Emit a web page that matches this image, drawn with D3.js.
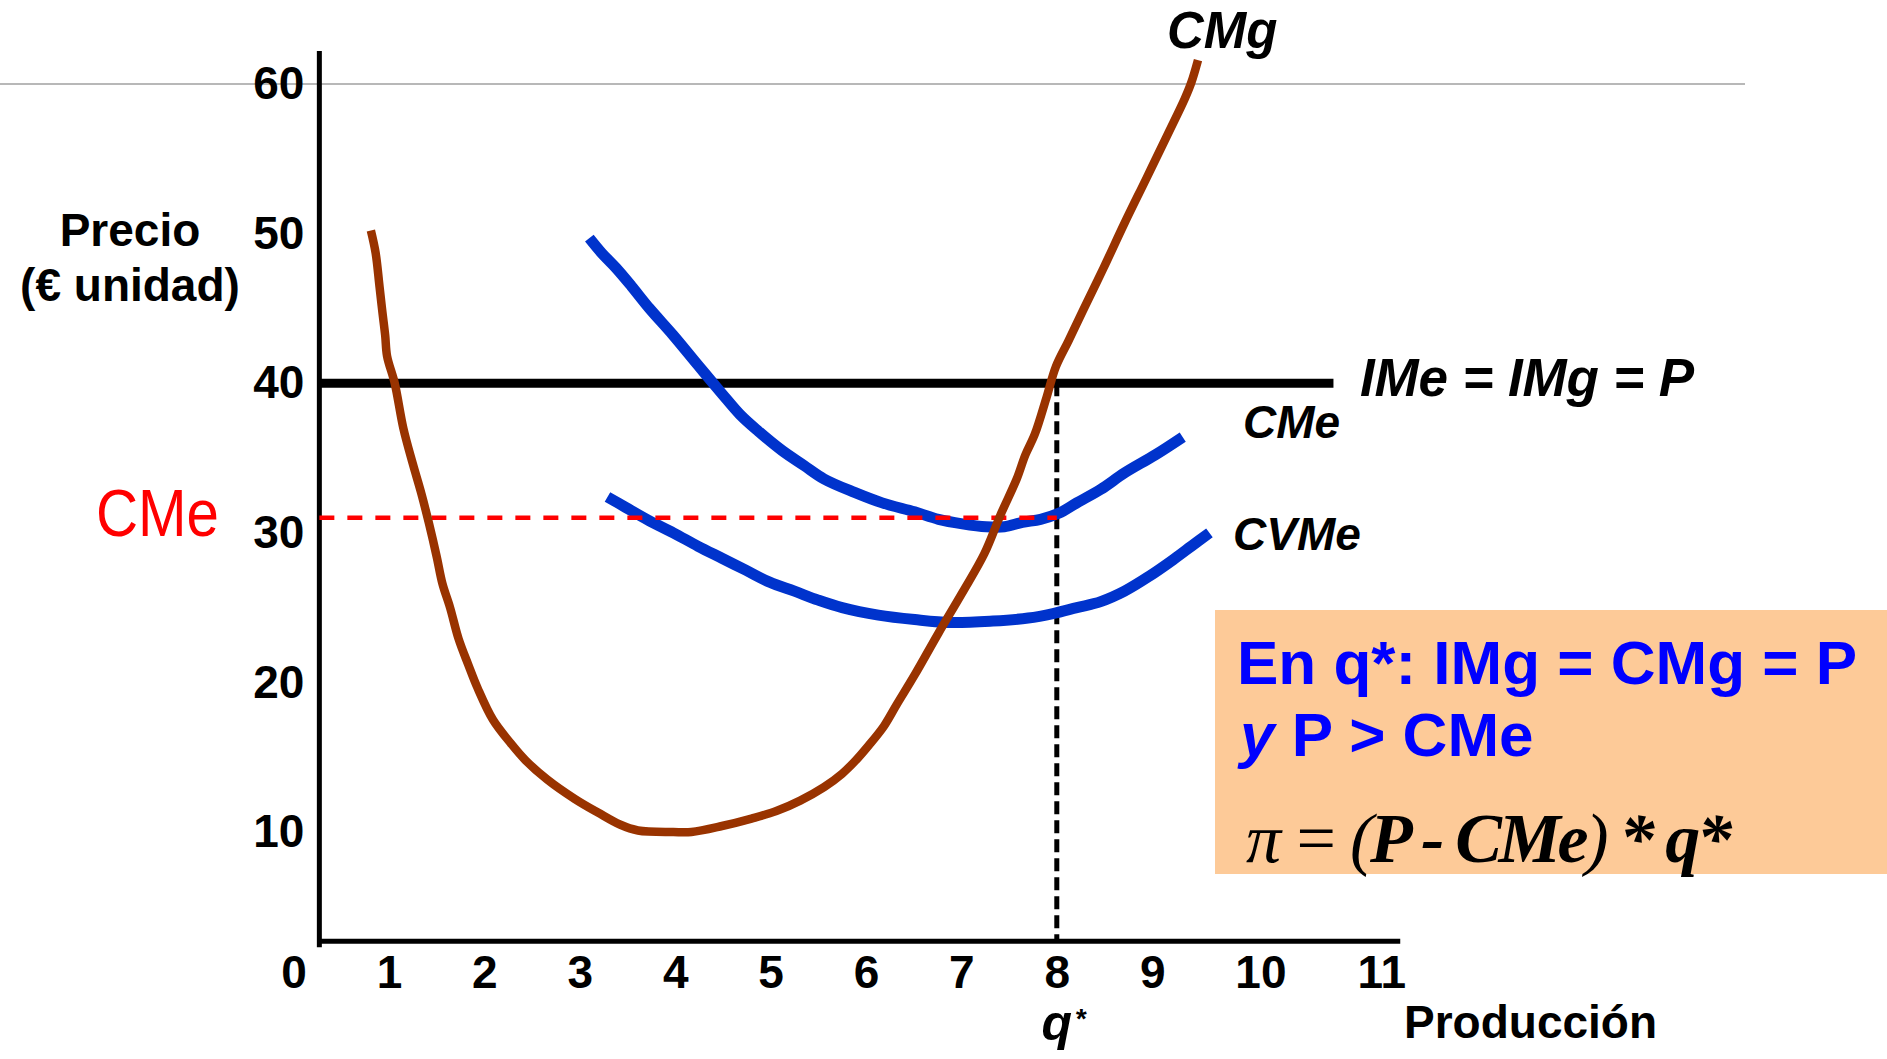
<html>
<head>
<script src="https://d3js.org/d3.v7.min.js"></script>
<style>
  body { margin: 0; background: #fff; }
  #svg { background-color: #fff; }
</style>
</head>
<body>
<svg id="svg" width="1887" height="1059"></svg>
<script>
// ---- data ----
var xTicks = [0, 1, 2, 3, 4, 5, 6, 7, 8, 9, 10, 11];
var yTicks = [10, 20, 30, 40, 50, 60];

var cmgQ = [0.81, 0.86, 0.9, 0.93, 0.96, 0.98, 1.06, 1.15, 1.25, 1.34, 1.42, 1.5, 1.56, 1.64, 1.73, 1.83, 1.93, 2.09, 2.28, 2.43, 2.66, 2.95, 3.19, 3.42, 3.61, 3.98, 4.17, 4.49, 4.8, 5.06, 5.31, 5.56, 5.75, 5.88, 6.03, 6.19, 6.32, 6.51, 6.76, 7.01, 7.24, 7.41, 7.58, 7.67, 7.77, 7.89, 7.99, 8.12, 8.27, 8.49, 8.71, 8.94, 9.16, 9.34, 9.41, 9.48];
var cmgC = [50.2, 48.7, 46.5, 44.8, 43.2, 41.8, 40.0, 37.0, 34.6, 32.6, 30.6, 28.4, 26.6, 25.0, 22.9, 21.2, 19.6, 17.5, 15.9, 14.8, 13.5, 12.2, 11.3, 10.5, 10.1, 10.0, 10.0, 10.4, 10.9, 11.4, 12.1, 13.0, 13.9, 14.7, 15.8, 17.1, 18.5, 20.5, 23.3, 26.0, 28.6, 31.2, 33.6, 35.2, 36.6, 39.0, 41.1, 42.8, 44.8, 47.7, 50.7, 53.7, 56.6, 59.0, 60.1, 61.6];

var cmeQ = [3.1, 3.23, 3.38, 3.54, 3.73, 3.98, 4.24, 4.49, 4.68, 4.87, 5.12, 5.35, 5.56, 5.88, 6.17, 6.51, 6.76, 7.01, 7.26, 7.45, 7.64, 7.83, 8.02, 8.21, 8.46, 8.71, 9.03, 9.32];
var cmeC = [49.7, 48.7, 47.7, 46.5, 45.0, 43.2, 41.2, 39.3, 37.9, 36.8, 35.5, 34.5, 33.6, 32.7, 32.0, 31.4, 30.9, 30.6, 30.4, 30.4, 30.7, 30.9, 31.3, 32.0, 32.9, 34.0, 35.2, 36.4];

var cvmeQ = [3.29, 3.48, 3.73, 3.98, 4.24, 4.49, 4.74, 4.99, 5.25, 5.5, 5.75, 6.13, 6.51, 6.89, 7.33, 7.7, 7.96, 8.21, 8.46, 8.71, 8.97, 9.22, 9.41, 9.6];
var cvmeC = [32.4, 31.7, 30.8, 30.0, 29.1, 28.3, 27.5, 26.7, 26.1, 25.5, 25.0, 24.5, 24.2, 24.0, 24.1, 24.3, 24.6, 25.0, 25.4, 26.1, 27.1, 28.2, 29.1, 30.0];

var price = 40;        // IMe = IMg = P
var priceEnd = 10.9;   // where the price line stops
var qStar = 8;
var cmeAtQ = 31;       // average cost at q*
var axisX0 = 0.27, axisX1 = 11.6;   // x extent of the axis line
var axisY0 = 2.7, axisY1 = 62.2;    // y extent of the axis line

// ---- setup ----
var svg = d3.select("svg");
var width = +svg.attr("width");
var sans = "'Liberation Sans', Arial, sans-serif";
var serif = "'Liberation Serif', 'Times New Roman', serif";

var x = d3.scaleLinear().domain([0, 11]).range([293.6, 1343]);
var y = d3.scaleLinear().domain([0, 60]).range([981.6, 84]);

var brown = "#993300", blue = "#0033cc", txtBlue = "#0000ff";

// gray slide rule at the top
svg.append("line")
    .attr("x1", 0).attr("x2", 1745)
    .attr("y1", y(60)).attr("y2", y(60))
    .attr("stroke", "#a0a0a0").attr("stroke-width", 1.5);

// peach box
svg.append("rect")
    .attr("x", 1215).attr("y", 610)
    .attr("width", width - 1215).attr("height", 264)
    .attr("fill", "#fdca98");

// axes
var gx = svg.append("g").attr("transform", "translate(0," + y(axisY0) + ")")
    .call(d3.axisBottom(x).tickValues(xTicks).tickSize(0).tickPadding(14));
var gy = svg.append("g").attr("transform", "translate(" + x(axisX0) + ",0)")
    .call(d3.axisLeft(y).tickValues(yTicks).tickSize(0).tickPadding(15));
[gx, gy].forEach(function(g){
    g.select(".domain").remove();
    g.selectAll("text")
        .style("font-family", sans)
        .attr("font-weight", "bold")
        .attr("font-size", 46)
        .attr("fill", "#000");
});
// labels were typed as one string, so two-digit numbers push the rest right
var digitW = 0.556 * 46, extra = 0;
gx.selectAll("text").attr("dx", function(d){
    var own = String(d).length - 1;
    var off = extra + own * digitW / 2;
    extra += own * digitW;
    return off;
});

svg.append("line")
    .attr("x1", x(axisX0)).attr("x2", x(axisX0))
    .attr("y1", y(axisY1)).attr("y2", y(axisY0) + 6)
    .attr("stroke", "#000").attr("stroke-width", 5);
svg.append("line")
    .attr("x1", x(axisX0)).attr("x2", x(axisX1))
    .attr("y1", y(axisY0)).attr("y2", y(axisY0))
    .attr("stroke", "#000").attr("stroke-width", 5);

// dashed q* line
svg.append("line")
    .attr("x1", x(qStar)).attr("x2", x(qStar))
    .attr("y1", y(price)).attr("y2", y(axisY0))
    .attr("stroke", "#000").attr("stroke-width", 5)
    .attr("stroke-dasharray", "13,6");

// price line
svg.append("line")
    .attr("x1", x(axisX0)).attr("x2", x(priceEnd))
    .attr("y1", y(price)).attr("y2", y(price))
    .attr("stroke", "#000").attr("stroke-width", 9);

// curves
var line = d3.line()
    .x(function(d){ return x(d[0]); })
    .y(function(d){ return y(d[1]); })
    .curve(d3.curveCatmullRom.alpha(0.5));

function drawCurve(qs, cs, color, w){
    svg.append("path")
        .datum(d3.zip(qs, cs))
        .attr("d", line)
        .attr("fill", "none")
        .attr("stroke", color)
        .attr("stroke-width", w);
}
drawCurve(cvmeQ, cvmeC, blue, 11);
drawCurve(cmeQ, cmeC, blue, 11);

// red dashed CMe level
svg.append("line")
    .attr("x1", x(axisX0)).attr("x2", x(qStar))
    .attr("y1", y(cmeAtQ)).attr("y2", y(cmeAtQ))
    .attr("stroke", "#ff0000").attr("stroke-width", 4.5)
    .attr("stroke-dasharray", "15,13");

drawCurve(cmgQ, cmgC, brown, 8.5);

// ---- text ----
function label(txt, px, py, opts){
    opts = opts || {};
    return svg.append("text")
        .attr("x", px).attr("y", py)
        .style("font-family", sans)
        .attr("text-anchor", opts.anchor || "start")
        .attr("font-size", opts.size || 46)
        .attr("font-weight", opts.weight || "bold")
        .attr("font-style", opts.style || "normal")
        .attr("fill", opts.fill || "#000")
        .text(txt);
}

label("Precio", 130, 246, {anchor: "middle"});
label("(\u20ac unidad)", 130, 301, {anchor: "middle"});
label("CMe", 96, 536, {size: 66, weight: "normal", fill: "#ff0000"})
    .attr("textLength", 123).attr("lengthAdjust", "spacingAndGlyphs");

label("CMg", 1167, 48, {size: 51, style: "italic"});
label("IMe = IMg = P", 1360, 396, {size: 53, style: "italic"})
    .attr("textLength", 334).attr("lengthAdjust", "spacing");
label("CMe", 1243, 438, {size: 46, style: "italic"});
label("CVMe", 1233, 550, {size: 46, style: "italic"});
label("Producci\u00f3n", 1404, 1038, {size: 46});
label("q", x(qStar), 1040, {size: 50, style: "italic", anchor: "middle"});
label("*", x(qStar) + 18, 1028, {size: 28, style: "italic"});

// box text
label("En q*: IMg = CMg = P", 1237, 684, {size: 62, fill: txtBlue});
var l2 = label("", 1240, 756, {size: 62, fill: txtBlue});
l2.append("tspan").attr("font-style", "italic").text("y");
l2.append("tspan").text(" P > CMe");

var f = svg.append("text")
    .attr("x", 1246).attr("y", 862)
    .style("font-family", serif)
    .attr("font-size", 70)
    .attr("font-style", "italic")
    .attr("fill", "#000")
    .attr("textLength", 486).attr("lengthAdjust", "spacing");
f.append("tspan").text("\u03c0 = (");
f.append("tspan").attr("font-weight", "bold").text("P - CMe");
f.append("tspan").text(")");
f.append("tspan").attr("font-weight", "bold").text(" * q*");
</script>
</body>
</html>
